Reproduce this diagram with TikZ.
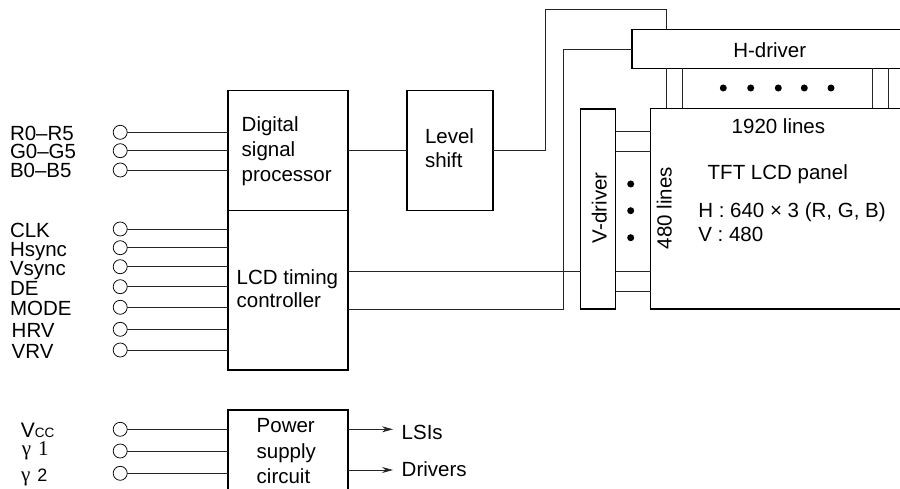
\documentclass[tikz,border=0pt]{standalone}
\usepackage{fontspec}
\setmainfont{Liberation Sans}
\newfontfamily\serifgk{Liberation Serif}
\usetikzlibrary{arrows.meta}
\begin{document}
\begin{tikzpicture}[x=1pt,y=-1pt,
  box/.style={draw, line width=1.5pt, inner sep=0pt, outer sep=0pt, anchor=north west},
  conn/.style={line width=0.75pt, black!85},
  inp/.style={circle, draw, line width=0.75pt, minimum size=14pt, inner sep=0pt, outer sep=0pt},
  txt/.style={inner sep=0pt, outer sep=0pt, anchor=base west, font=\fontsize{20.5}{24}\selectfont},
  lbl/.style={inner sep=0pt, outer sep=0pt, anchor=west, text height=14.7pt, text depth=0pt, font=\fontsize{20.5}{24}\selectfont},
  arr/.style={conn, -{Stealth[length=11pt,width=6pt]}},
  dotn/.style={circle, fill, inner sep=0pt, minimum size=7pt}
]
\useasboundingbox (0,0) rectangle (900,489);
\clip (0,0) rectangle (900,489);

% boxes
\node[box, minimum width=120pt, minimum height=120pt] (dsp) at (228,90.7) {};
\node[box, minimum width=120pt, minimum height=159.3pt] (lcd) at (228,210.7) {};
\node[box, minimum width=86pt, minimum height=120pt] (lvl) at (407,90.3) {};
\node[box, minimum width=120pt, minimum height=100pt] (pwr) at (228,410) {};
\node[box, minimum width=290pt, minimum height=39pt] (hdrv) at (632,29.5) {};
\node[box, minimum width=35pt, minimum height=200pt] (vdrv) at (580.5,109) {};
\node[box, minimum width=270pt, minimum height=200.5pt] (panel) at (650.5,108.5) {};

% box texts
\node[txt] (dspA) at (241.7,131.7) {Digital};
\node[txt] (dspB) at (241.7,156.7) {signal};
\node[txt] (dspC) at (241.7,181.7) {processor};
\node[txt] (lvlA) at (425,144) {Level};
\node[txt] (lvlB) at (425,167.3) {shift};
\node[txt] (lcdA) at (236.7,284) {LCD timing};
\node[txt] (lcdB) at (236.7,307.3) {controller};
\node[txt] (pwrA) at (256.7,432.7) {Power};
\node[txt] (pwrB) at (256.7,458.3) {supply};
\node[txt] (pwrC) at (256.7,483) {circuit};
\node[txt] (hdt) at (733.3,57.3) {H-driver};
\node[txt, anchor=base, rotate=90] (vdt) at (606.7,207.7) {V-driver};
\node[txt, anchor=base, rotate=90] (p480) at (671.7,208) {480 lines};
\node[txt] (p1920) at (731.7,133.3) {1920 lines};
\node[txt] (ptft) at (707.7,179.3) {TFT LCD panel};
\node[txt] (ph) at (698.3,217.3) {H : 640 × 3 (R, G, B)};
\node[txt] (pv) at (698.3,241.7) {V : 480};

% inputs to DSP
\foreach \n/\y/\t/\lx in {R/132.3/R0--R5/10, G/150.7/G0--G5/10, B/170/B0--B5/10}{
  \node[inp] (c\n) at (120.2,\y) {};
  \node[lbl] (l\n) at (\lx,{\y+0.5}) {\t};
  \draw[conn] (c\n.east) -- (c\n -| dsp.west);
}
% inputs to LCD timing controller
\foreach \n/\y/\t/\lx in {clk/229/CLK/10, hs/247.7/Hsync/10, vs/266.7/Vsync/10, de/286.7/DE/10, mo/307.3/MODE/10, hr/329.3/HRV/11.7, vr/350/VRV/11.7}{
  \node[inp] (c\n) at (120.2,\y) {};
  \node[lbl] (l\n) at (\lx,{\y+1}) {\t};
  \draw[conn] (c\n.east) -- (c\n -| lcd.west);
}
% power inputs
\foreach \n/\y in {vcc/429.3, ga/451, gb/473.3}{
  \node[inp] (c\n) at (120.2,\y) {};
  \draw[conn] (c\n.east) -- (c\n -| pwr.west);
}
\node[inner sep=0pt, anchor=base west] (lvcc) at (20.7,437.7) {\fontsize{21}{24}\selectfont V\fontsize{13.5}{16}\selectfont CC};
\node[inner sep=0pt, anchor=base west] (lga) at (21.7,455.5) {\fontsize{21}{24}\selectfont\serifgk γ\hspace{7pt}1};
\node[inner sep=0pt, anchor=base west] (lgb) at (21,481) {\fontsize{21}{24}\selectfont{\serifgk γ}\hspace{7pt}{\fontsize{18}{20}\selectfont 2}};

% power outputs
\coordinate (aL) at (393,429.3);
\coordinate (aD) at (393,470);
\draw[arr] (pwr.east |- aL) -- (aL);
\draw[arr] (pwr.east |- aD) -- (aD);
\node[txt] (tL) at (401.7,439) {LSIs};
\node[txt] (tD) at (401.7,476.7) {Drivers};

% signal path
\coordinate (k1) at (545,9);
\coordinate (k2) at (563,0);
\coordinate (xa) at (666,0);
\coordinate (xb) at (682,0);
\coordinate (xc) at (872,0);
\coordinate (xd) at (888,0);
\coordinate (yA) at (0,271.7);
\coordinate (yB) at (0,309);
\coordinate (yC) at (0,131.7);
\coordinate (yD) at (0,151);
\coordinate (yE) at (0,291);
\draw[conn] (dsp.east) -- (lvl.west |- dsp.east);
\draw[conn] (lvl.east |- dsp.east) -| (k1) -| (hdrv.north -| xa);
\draw[conn] (lcd.east |- yA) -- (vdrv.west |- yA);
\draw[conn] (lcd.east |- yB) -| (hdrv.west -| k2) -- (hdrv.west);

% H-driver to panel
\foreach \c in {xa, xb, xc, xd}{
  \draw[conn] (hdrv.south -| \c) -- (panel.north -| \c);
}
% V-driver to panel
\foreach \c in {yC, yD, yA, yE}{
  \draw[conn] (vdrv.east |- \c) -- (panel.west |- \c);
}

% dots
\foreach \i/\x in {1/723.3, 2/750.7, 3/778.3, 4/804.3, 5/831}{
  \node[dotn] (hd\i) at (\x,88) {};
}
\foreach \i/\y in {1/184, 2/210.7, 3/237.7}{
  \node[dotn] (vd\i) at (630.7,\y) {};
}
\end{tikzpicture}
\end{document}
